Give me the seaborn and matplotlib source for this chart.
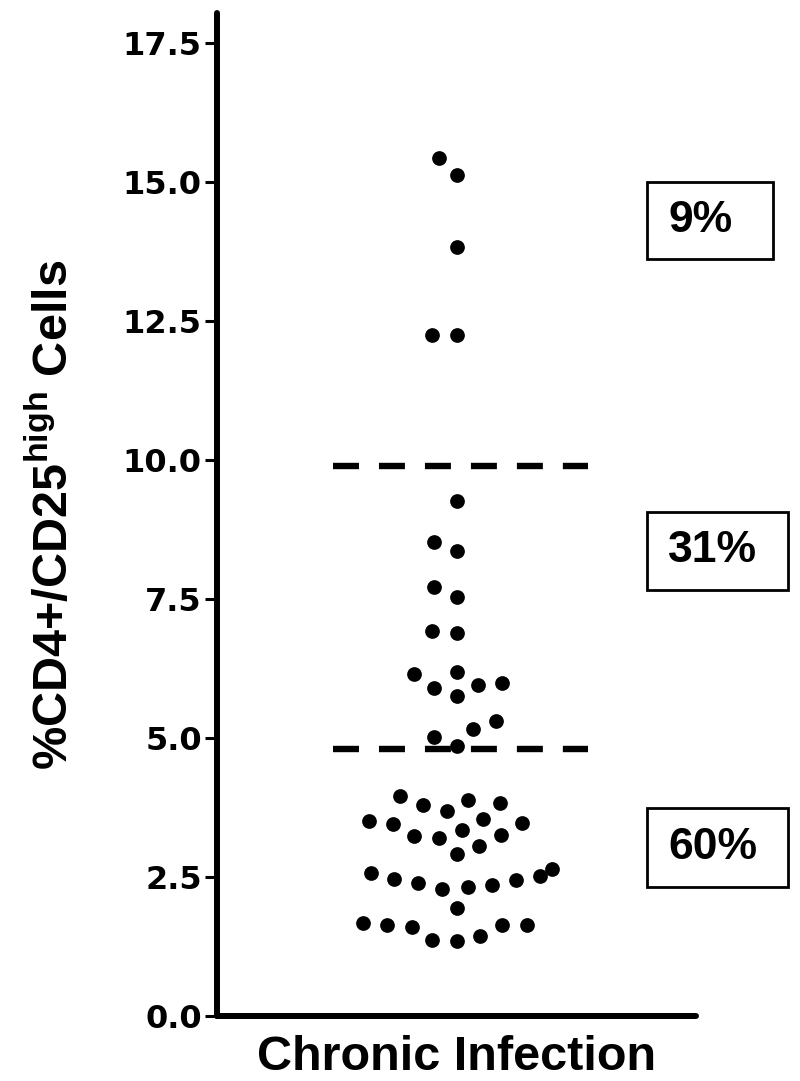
import numpy as np
import pandas as pd
import matplotlib
matplotlib.use("Agg")
import matplotlib.pyplot as plt
import seaborn as sns
from matplotlib.patches import Rectangle
from matplotlib.collections import PathCollection

# ---------------- data ----------------
group_label = "Chronic Infection"
values_high = [15.43, 15.13, 13.84, 12.25, 12.25]
values_mid = [9.27, 8.53, 8.37, 7.71, 7.54, 6.89, 6.92, 6.15, 6.18, 5.96,
              5.90, 5.99, 5.75, 5.31, 5.17, 5.02, 4.86]
values_low = [3.95, 3.83, 3.80, 3.89, 3.68, 3.54, 3.48, 3.35, 3.45, 3.20,
              3.51, 3.26, 3.23, 3.06, 2.91, 2.65, 2.52, 2.58, 2.35, 2.47,
              2.29, 2.39, 2.44, 2.32, 1.95, 1.63, 1.63, 1.60, 1.64, 1.67,
              1.44, 1.34, 1.37]
cutoffs = [9.9, 4.8]
region_labels = ["9%", "31%", "60%"]
yticks = [0.0, 2.5, 5.0, 7.5, 10.0, 12.5, 15.0, 17.5]
ylabel_text = r"%CD4+/CD25$^{\mathbf{high}}$ Cells"

df = pd.DataFrame({
    "group": group_label,
    "value": values_high + values_mid + values_low,
})

# ---------------- style ----------------
sns.set_style("ticks")
plt.rcParams["font.family"] = ["Liberation Sans", "DejaVu Sans"]
plt.rcParams["font.weight"] = "bold"
plt.rcParams["text.color"] = "black"
plt.rcParams["axes.labelcolor"] = "black"
plt.rcParams["mathtext.fontset"] = "custom"
plt.rcParams["mathtext.rm"] = "Liberation Sans:bold"
plt.rcParams["mathtext.bf"] = "Liberation Sans:bold"

W, H = 800, 1081
fig = plt.figure(figsize=(W / 100, H / 100), dpi=100)
ax_l, ax_r, ax_t, ax_b = 217, 696, 13, 1016
ax = fig.add_axes([ax_l / W, 1 - ax_b / H, (ax_r - ax_l) / W, (ax_b - ax_t) / H])

# swarm laid out with the reference's column spacing, then dots shrunk
layout_size = 16.8
dot_size = 10.6
sns.swarmplot(data=df, x="group", y="value", color="black", size=layout_size,
              linewidth=0, ax=ax)

ax.set_xlim(-1, 1)
ax.set_ylim(0, 18.04)

# dashed cut-off lines
lw = 4.6
for c in cutoffs:
    ax.plot([-0.516, 0.549], [c, c], color="black", lw=lw,
            dashes=(18.7 / lw, 14.4 / lw), dash_capstyle="butt",
            solid_capstyle="butt")

# spines & ticks
for s in ["top", "right"]:
    ax.spines[s].set_visible(False)
for s in ["left", "bottom"]:
    ax.spines[s].set_linewidth(4.3)
    ax.spines[s].set_color("black")
    ax.spines[s].set_capstyle("round")

ax.set_xticks([])
ax.set_yticks(yticks)
ax.set_yticklabels([f"{t:.1f}" for t in yticks],
                   fontfamily="DejaVu Sans", fontweight="bold", fontsize=23,
                   color="black")
ax.tick_params(axis="y", length=9, width=2.2, pad=2, color="black",
               labelcolor="black")

ax.set_xlabel(group_label, fontsize=35, fontweight="bold", labelpad=14,
              color="black")
ax.set_ylabel(ylabel_text, fontsize=35, fontweight="bold", color="black")
ax.yaxis.set_label_coords(-0.29, 0.5)

# percentage boxes (pixel layout)
boxes = [(647, 182, 773, 259), (647, 512, 788, 590), (647, 808, 788, 887)]
for (l, t, r, b), lab in zip(boxes, region_labels):
    fig.add_artist(Rectangle((l / W, 1 - b / H), (r - l) / W, (b - t) / H,
                             transform=fig.transFigure, fill=False,
                             edgecolor="black", lw=2.0))
    fig.text(668 / W, 1 - ((t + b) / 2) / H, lab, ha="left", va="center",
             fontsize=32, fontweight="bold", color="black")

# compute the swarm layout once, then freeze it and shrink the dots
fig.canvas.draw()
for coll in ax.collections:
    if isinstance(coll, PathCollection):
        if "draw" in coll.__dict__:
            del coll.__dict__["draw"]
        coll.set_sizes([dot_size ** 2])

fig.savefig("out.png", dpi=100, facecolor="white")
